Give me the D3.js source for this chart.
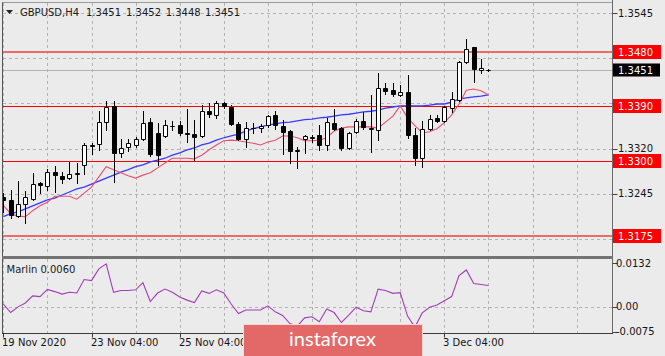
<!DOCTYPE html>
<html><head><meta charset="utf-8">
<script src="https://cdn.jsdelivr.net/npm/d3@7"></script>
<style>html,body{margin:0;padding:0;background:#ebebeb;}svg{display:block;font-family:"DejaVu Sans",sans-serif;}</style>
</head><body><svg id="c" width="665" height="356"></svg>
<script>
// ---------------- DATA ----------------
const symbolTitle = "GBPUSD,H4";
const titleValues = ["1.3451", "1.3452", "1.3448", "1.3451"];
const openP = [1.3240,1.3235,1.3208,1.3228,1.3236,1.3263,1.3258,1.3281,1.3275,1.3271,
  1.3278,1.3293,1.3326,1.3328,1.3364,1.3391,1.3313,1.3323,1.3326,1.3336,
  1.3364,1.3346,1.3341,1.3357,1.3359,1.3346,1.3344,1.3341,1.3382,1.3376,
  1.3396,1.3389,1.3361,1.3336,1.3354,1.3354,1.3359,1.3376,1.3358,1.3349,
  1.3316,1.3336,1.3338,1.3343,1.3326,1.3363,1.3354,1.3321,1.3348,1.3366,
  1.3353,1.3351,1.3420,1.3417,1.3409,1.3414,1.3343,1.3304,1.3353,1.3371,
  1.3366,1.3387,1.3401,1.3464,1.3488,1.3450,1.3451];
const highP = [1.3246,1.3251,1.3266,1.3250,1.3280,1.3265,1.3286,1.3291,1.3281,1.3298,
  1.3296,1.3329,1.3329,1.3382,1.3399,1.3399,1.3336,1.3336,1.3339,1.3382,
  1.3371,1.3363,1.3368,1.3366,1.3366,1.3386,1.3368,1.3392,1.3396,1.3399,
  1.3398,1.3392,1.3364,1.3364,1.3363,1.3361,1.3376,1.3382,1.3368,1.3351,
  1.3323,1.3343,1.3343,1.3359,1.3371,1.3386,1.3356,1.3347,1.3369,1.3381,
  1.3409,1.3445,1.3429,1.3429,1.3426,1.3442,1.3354,1.3366,1.3376,1.3376,
  1.3391,1.3414,1.3465,1.3502,1.3489,1.3469,1.3452];
const lowP = [1.3215,1.3205,1.3207,1.3197,1.3235,1.3246,1.3251,1.3248,1.3263,1.3270,
  1.3263,1.3278,1.3311,1.3318,1.3351,1.3265,1.3306,1.3316,1.3323,1.3334,
  1.3308,1.3293,1.3339,1.3351,1.3343,1.3331,1.3301,1.3339,1.3372,1.3371,
  1.3387,1.3359,1.3334,1.3323,1.3346,1.3348,1.3356,1.3353,1.3311,1.3296,
  1.3288,1.3313,1.3331,1.3318,1.3318,1.3351,1.3318,1.3319,1.3346,1.3353,
  1.3314,1.3334,1.3411,1.3407,1.3407,1.3338,1.3293,1.3290,1.3351,1.3364,
  1.3364,1.3381,1.3399,1.3462,1.3431,1.3445,1.3448];
const closeP = [1.3235,1.3210,1.3228,1.3240,1.3261,1.3260,1.3281,1.3276,1.3270,1.3278,
  1.3279,1.3326,1.3325,1.3364,1.3389,1.3313,1.3321,1.3329,1.3336,1.3363,
  1.3311,1.3309,1.3359,1.3358,1.3346,1.3344,1.3339,1.3382,1.3377,1.3396,
  1.3391,1.3361,1.3336,1.3354,1.3355,1.3358,1.3374,1.3359,1.3348,1.3316,
  1.3317,1.3341,1.3339,1.3326,1.3364,1.3353,1.3321,1.3346,1.3366,1.3356,
  1.3354,1.3421,1.3416,1.3411,1.3414,1.3343,1.3304,1.3353,1.3369,1.3366,
  1.3389,1.3402,1.3464,1.3485,1.3452,1.3453,1.3451];
const maSlow = [1.3207,1.3212,1.3215,1.3220,1.3225,1.3230,1.3235,1.3238,1.3243,1.3248,
  1.3253,1.3256,1.3261,1.3266,1.3271,1.3276,1.3281,1.3285,1.3290,1.3293,
  1.3298,1.3301,1.3304,1.3309,1.3313,1.3318,1.3321,1.3326,1.3329,1.3334,
  1.3338,1.3341,1.3344,1.3349,1.3353,1.3356,1.3359,1.3361,1.3363,1.3364,
  1.3366,1.3368,1.3369,1.3371,1.3372,1.3374,1.3376,1.3377,1.3379,1.3381,
  1.3382,1.3384,1.3387,1.3389,1.3391,1.3391,1.3391,1.3391,1.3392,1.3394,
  1.3394,1.3397,1.3402,1.3404,1.3406,1.3407,1.3409];
const maFast = [1.3226,1.3212,1.3208,1.3207,1.3217,1.3225,1.3231,1.3241,1.3241,1.3241,
  1.3236,1.3246,1.3256,1.3273,1.3290,1.3285,1.3280,1.3275,1.3271,1.3276,
  1.3280,1.3288,1.3296,1.3304,1.3304,1.3304,1.3303,1.3309,1.3318,1.3326,
  1.3333,1.3334,1.3333,1.3331,1.3329,1.3326,1.3331,1.3334,1.3341,1.3341,
  1.3338,1.3333,1.3333,1.3334,1.3338,1.3349,1.3354,1.3356,1.3356,1.3356,
  1.3356,1.3354,1.3364,1.3374,1.3391,1.3371,1.3358,1.3346,1.3348,1.3353,
  1.3363,1.3376,1.3394,1.3417,1.3419,1.3416,1.3409];
const marlin = [0.0008,-0.0016,0.0000,0.0011,0.0031,0.0029,0.0049,0.0043,0.0036,0.0041,
  0.0039,0.0077,0.0074,0.0107,0.0121,0.0041,0.0046,0.0046,0.0048,0.0068,
  0.0015,0.0039,0.0050,0.0041,0.0028,0.0019,0.0012,0.0045,0.0038,0.0048,
  0.0039,0.0008,-0.0019,-0.0009,-0.0009,-0.0009,0.0003,-0.0014,-0.0024,-0.0047,
  -0.0054,-0.0031,-0.0028,-0.0042,-0.0006,-0.0016,-0.0044,-0.0023,-0.0001,-0.0011,
  -0.0014,0.0050,0.0046,0.0038,0.0040,-0.0026,-0.0057,-0.0017,-0.0001,0.0005,
  0.0017,0.0029,0.0088,0.0104,0.0066,0.0063,0.0060];
const marlinLabel = "Marlin 0.0060";
const priceTicks = [1.3545, 1.3470, 1.3395, 1.3320, 1.3245, 1.3170];
const levels = [1.3480, 1.3390, 1.3300, 1.3175];
const currentPrice = 1.3451;
const marlinTicks = [0.0132, 0.00, -0.0075];
const marlinTickLabels = ["0.0132", "0.00", "-0.0075"];
const timeLabelBars = [0, 12, 24, 36, 48, 60];
const timeLabels = ["19 Nov 2020", "23 Nov 04:00", "25 Nov 04:00", "27 Nov 04:00", "1 Dec 04:00", "3 Dec 04:00"];
const brand = "instaforex";

// ---------------- LAYOUT ----------------
const W = 665, H = 356;
const L = 2.5, R = 612.5, mainTop = 2.5, mainBot = 255, indTop = 259, indBot = 333.5;
const logoX0 = 243.5, logoX1 = 422.5, logoY = 324.5;
const svg = d3.select("#c");
svg.append("rect").attr("width", W).attr("height", H).attr("fill", "#ebebeb");

const x = d3.scaleLinear().domain([0, 66]).range([3.3, 488.4]);
const y = d3.scaleLinear().domain([1.3170, 1.3545]).range([239.0, 13]);
const yi = d3.scaleLinear().domain([-0.0075, 0.0132]).range([333.5, 260]);
const px = v => Math.round(v) + 0.5;

const defs = svg.append("defs");
defs.append("clipPath").attr("id", "cm").append("rect").attr("x", 3).attr("y", 3).attr("width", R - 3).attr("height", mainBot - 3);
defs.append("clipPath").attr("id", "ci").append("rect").attr("x", 3).attr("y", indTop).attr("width", R - 3).attr("height", indBot - indTop);

const gridColor = "#b3b3b3";
const gridBars = d3.range(0, 84, 6);
const gMain = svg.append("g").attr("clip-path", "url(#cm)");
const gInd = svg.append("g").attr("clip-path", "url(#ci)");

// grids
gMain.selectAll(".vg").data(gridBars).join("line")
  .attr("x1", d => px(x(d))).attr("x2", d => px(x(d))).attr("y1", 3).attr("y2", mainBot)
  .attr("stroke", gridColor).attr("stroke-dasharray", "3,3");
gMain.selectAll(".hg").data(priceTicks).join("line")
  .attr("x1", 3).attr("x2", R).attr("y1", d => px(y(d))).attr("y2", d => px(y(d)))
  .attr("stroke", gridColor).attr("stroke-dasharray", "3,3");
gInd.selectAll(".vg").data(gridBars).join("line")
  .attr("x1", d => px(x(d))).attr("x2", d => px(x(d))).attr("y1", indTop).attr("y2", indBot)
  .attr("stroke", gridColor).attr("stroke-dasharray", "3,3");
gInd.append("line").attr("x1", 3).attr("x2", R).attr("y1", px(yi(0))).attr("y2", px(yi(0)))
  .attr("stroke", gridColor).attr("stroke-dasharray", "3,3");

// current price line
gMain.append("line").attr("x1", 3).attr("x2", R).attr("y1", px(y(currentPrice))).attr("y2", px(y(currentPrice)))
  .attr("stroke", "#b4b4b4").attr("stroke-width", 1);

// levels
levels.forEach((lv, i) => {
  const outer = (i === 0 || i === levels.length - 1);
  gMain.append("line").attr("x1", 3).attr("x2", R)
    .attr("y1", outer ? Math.round(y(lv)) : px(y(lv))).attr("y2", outer ? Math.round(y(lv)) : px(y(lv)))
    .attr("stroke", outer ? "#f06a6a" : "#ff0000").attr("stroke-width", outer ? 2 : 1);
});

// moving averages
const line = d3.line().x((d, i) => x(i)).y(d => y(d));
gMain.append("path").attr("d", line(maSlow)).attr("fill", "none").attr("stroke", "#3a3aff").attr("stroke-width", 1.3);
gMain.append("path").attr("d", line(maFast)).attr("fill", "none").attr("stroke", "#e8506e").attr("stroke-width", 1.1);

// candles
const cg = gMain.append("g");
openP.forEach((o, i) => {
  const c = closeP[i], X = px(x(i));
  cg.append("line").attr("x1", X).attr("x2", X).attr("y1", Math.round(y(highP[i]))).attr("y2", Math.round(y(lowP[i])) + 1)
    .attr("stroke", "#000").attr("stroke-width", 1);
  const y0 = px(y(Math.max(o, c))), y1 = px(y(Math.min(o, c)));
  cg.append("path").attr("d", `M${X - 2},${y0}H${X + 2}V${y1}H${X - 2}Z`)
    .attr("fill", c >= o ? "#ffffff" : "#000000").attr("stroke", "#000").attr("stroke-width", 1);
});

// indicator line
const iline = d3.line().x((d, i) => x(i)).y(d => yi(d));
gInd.append("path").attr("d", iline(marlin)).attr("fill", "none").attr("stroke", "#a43cb8").attr("stroke-width", 1.1);

// frame
svg.append("line").attr("x1", L).attr("x2", L).attr("y1", 2).attr("y2", indBot).attr("stroke", "#555");
svg.append("line").attr("x1", L).attr("x2", R).attr("y1", 2.5).attr("y2", 2.5).attr("stroke", "#9a9a9a");
svg.append("line").attr("x1", R).attr("x2", R).attr("y1", 0).attr("y2", indBot).attr("stroke", "#6a6a6a");
svg.append("rect").attr("x", 2).attr("y", 256).attr("width", R - 1.5).attr("height", 3).attr("fill", "#747474");
svg.append("line").attr("x1", 2).attr("x2", R + 0.5).attr("y1", indBot).attr("y2", indBot).attr("stroke", "#3c3c3c");

// price axis (labels hidden under a level box are not drawn, as in the reference)
const axisText = "#151515";
const boxRows = levels.map(lv => Math.round(y(lv))).concat([Math.round(y(currentPrice))]);
priceTicks.forEach(t => {
  const yy = y(t);
  svg.append("line").attr("x1", R).attr("x2", R + 5).attr("y1", px(yy)).attr("y2", px(yy)).attr("stroke", "#444");
  const covered = boxRows.some(b => Math.abs(b - yy) < 11);
  if (!covered) svg.append("text").attr("x", 618).attr("y", yy + 3.6).attr("font-size", 10).attr("fill", axisText).text(t.toFixed(4));
});
levels.forEach(lv => {
  const yy = Math.round(y(lv));
  svg.append("rect").attr("x", 613).attr("y", yy - 7).attr("width", 48).attr("height", 14).attr("fill", "#ff0000");
  svg.append("text").attr("x", 618).attr("y", yy + 3.6).attr("font-size", 10).attr("fill", "#fff").text(lv.toFixed(4));
});
{
  const yy = Math.round(y(currentPrice));
  svg.append("rect").attr("x", 613).attr("y", yy - 6.5).attr("width", 47).attr("height", 13).attr("fill", "#000");
  svg.append("text").attr("x", 618).attr("y", yy + 3.6).attr("font-size", 10).attr("fill", "#fff").text(currentPrice.toFixed(4));
}

// indicator axis
marlinTicks.forEach((t, i) => {
  const yy = Math.min(Math.max(yi(t), indTop + 4), indBot - 2);
  svg.append("line").attr("x1", R).attr("x2", R + 5).attr("y1", px(yy)).attr("y2", px(yy)).attr("stroke", "#444");
  svg.append("text").attr("x", 616).attr("y", yy + 3.6).attr("font-size", 10).attr("fill", axisText).text(marlinTickLabels[i]);
});

// time axis (labels fully under the brand box are not drawn, as in the reference)
timeLabelBars.forEach((b, i) => {
  const X = px(x(b));
  svg.append("line").attr("x1", X).attr("x2", X).attr("y1", indBot).attr("y2", indBot + 4).attr("stroke", "#333");
  const tx = Math.round(x(b)) - 1;
  const hidden = tx > logoX0 && tx < logoX1;
  if (!hidden) svg.append("text").attr("x", tx).attr("y", 346).attr("font-size", 10).attr("fill", axisText).text(timeLabels[i]);
});

// title
svg.append("path").attr("d", "M6,10L13,10L9.5,14Z").attr("fill", "#222");
svg.append("text").attr("x", 20).attr("y", 16).attr("font-size", 10).attr("fill", "#1a1a1a").text(symbolTitle);
const tvx = [86, 126, 165.7, 205];
titleValues.forEach((v, i) => svg.append("text").attr("x", tvx[i]).attr("y", 16).attr("font-size", 10).attr("fill", "#1a1a1a").text(v));
svg.append("text").attr("x", 6.5).attr("y", 272.5).attr("font-size", 10).attr("fill", "#1a1a1a").text(marlinLabel);

// brand box
svg.append("rect").attr("x", logoX0).attr("y", logoY).attr("width", logoX1 - logoX0).attr("height", 33)
  .attr("fill", "#e36969").attr("stroke", "#f6d6d6").attr("stroke-width", 1);
svg.append("text").attr("x", 332.5).attr("y", 346).attr("text-anchor", "middle")
  .attr("font-family", "Lato, 'Open Sans', sans-serif").attr("font-size", 20).attr("fill", "#fff").text(brand);
</script></body></html>
